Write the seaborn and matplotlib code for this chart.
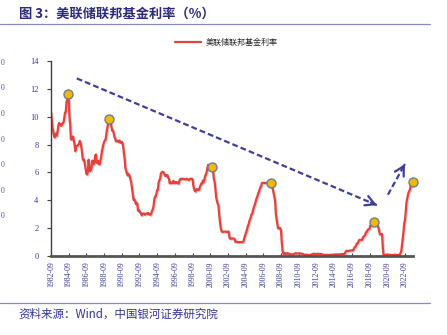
import numpy as np
import pandas as pd
import matplotlib
matplotlib.use("Agg")
import matplotlib.pyplot as plt
import matplotlib.patheffects as pe
from matplotlib.lines import Line2D
import seaborn as sns

# Monthly effective federal funds rate (%), starting 1982-09
start_month = "1982-09"
rates_1980s = [
    10.31, 9.71, 9.20, 8.95,
    8.68, 8.51, 8.77, 8.80, 8.63, 8.98, 9.37, 9.56, 9.45, 9.48, 9.34, 9.47,
    9.56, 9.59, 9.91, 10.29, 10.32, 11.06, 11.23, 11.64, 11.30, 9.99, 9.43, 8.38,
    8.35, 8.50, 8.58, 8.27, 7.97, 7.53, 7.88, 7.90, 7.92, 7.99, 8.05, 8.27,
    8.14, 7.86, 7.48, 6.99, 6.85, 6.92, 6.56, 6.17, 5.89, 5.85, 6.04, 6.91,
    6.43, 6.10, 6.13, 6.37, 6.85, 6.73, 6.58, 6.73, 7.22, 7.29, 6.69, 6.77,
    6.83, 6.58, 6.58, 6.87, 7.09, 7.51, 7.75, 8.01, 8.19, 8.30, 8.35, 8.76,
    9.12, 9.36, 9.85, 9.84, 9.81, 9.53, 9.24, 8.99, 9.02, 8.84, 8.55, 8.45,
]
rates_1990s = [
    8.23, 8.24, 8.28, 8.26, 8.18, 8.29, 8.15, 8.13, 8.20, 8.11, 7.81, 7.31,
    6.91, 6.25, 6.12, 5.91, 5.78, 5.90, 5.82, 5.66, 5.45, 5.21, 4.81, 4.43,
    4.03, 4.06, 3.98, 3.73, 3.82, 3.76, 3.25, 3.30, 3.22, 3.10, 3.09, 2.92,
    3.02, 3.03, 3.07, 2.96, 3.00, 3.04, 3.06, 3.03, 3.09, 2.99, 3.02, 2.96,
    3.05, 3.25, 3.34, 3.56, 4.01, 4.25, 4.26, 4.47, 4.73, 4.76, 5.29, 5.45,
    5.53, 5.92, 5.98, 6.05, 6.01, 6.00, 5.85, 5.74, 5.80, 5.76, 5.80, 5.60,
    5.56, 5.22, 5.31, 5.22, 5.24, 5.27, 5.40, 5.22, 5.30, 5.24, 5.31, 5.29,
    5.25, 5.19, 5.39, 5.51, 5.50, 5.56, 5.52, 5.54, 5.54, 5.50, 5.52, 5.50,
    5.56, 5.51, 5.49, 5.45, 5.49, 5.56, 5.54, 5.55, 5.51, 5.07, 4.83, 4.68,
    4.63, 4.76, 4.81, 4.74, 4.74, 4.76, 4.99, 5.07, 5.22, 5.20, 5.42, 5.30,
]
rates_2000s = [
    5.45, 5.73, 5.85, 6.02, 6.27, 6.53, 6.54, 6.50, 6.52, 6.51, 6.51, 6.40,
    5.98, 5.49, 5.31, 4.80, 4.21, 3.97, 3.77, 3.65, 3.07, 2.49, 2.09, 1.82,
    1.73, 1.74, 1.73, 1.75, 1.75, 1.75, 1.73, 1.74, 1.75, 1.75, 1.34, 1.24,
    1.24, 1.26, 1.25, 1.26, 1.26, 1.22, 1.01, 1.03, 1.01, 1.01, 1.00, 0.98,
    1.00, 1.01, 1.00, 1.00, 1.00, 1.03, 1.26, 1.43, 1.61, 1.76, 1.93, 2.16,
    2.28, 2.50, 2.63, 2.79, 3.00, 3.04, 3.26, 3.50, 3.62, 3.78, 4.00, 4.16,
    4.29, 4.49, 4.59, 4.79, 4.94, 4.99, 5.24, 5.25, 5.25, 5.25, 5.25, 5.24,
    5.25, 5.26, 5.26, 5.25, 5.25, 5.25, 5.26, 5.02, 4.94, 4.76, 4.49, 4.24,
    3.94, 2.98, 2.61, 2.28, 1.98, 2.00, 2.01, 2.00, 1.81, 0.97, 0.39, 0.16,
    0.15, 0.22, 0.18, 0.15, 0.18, 0.21, 0.16, 0.16, 0.15, 0.12, 0.12, 0.12,
]
rates_2010s = [
    0.11, 0.13, 0.16, 0.20, 0.20, 0.18, 0.18, 0.19, 0.19, 0.19, 0.19, 0.18,
    0.17, 0.16, 0.14, 0.10, 0.09, 0.09, 0.07, 0.10, 0.08, 0.07, 0.08, 0.07,
    0.08, 0.10, 0.13, 0.14, 0.16, 0.16, 0.16, 0.13, 0.14, 0.16, 0.16, 0.16,
    0.14, 0.15, 0.14, 0.15, 0.11, 0.09, 0.09, 0.08, 0.08, 0.09, 0.08, 0.09,
    0.07, 0.07, 0.08, 0.09, 0.09, 0.10, 0.09, 0.09, 0.09, 0.09, 0.09, 0.12,
    0.11, 0.11, 0.11, 0.12, 0.12, 0.13, 0.13, 0.14, 0.14, 0.12, 0.12, 0.24,
    0.34, 0.38, 0.36, 0.37, 0.37, 0.38, 0.39, 0.40, 0.40, 0.40, 0.41, 0.54,
    0.65, 0.66, 0.79, 0.90, 0.91, 1.04, 1.15, 1.16, 1.15, 1.15, 1.16, 1.30,
    1.41, 1.42, 1.51, 1.69, 1.70, 1.82, 1.91, 1.91, 1.95, 2.19, 2.20, 2.27,
    2.40, 2.40, 2.41, 2.42, 2.39, 2.38, 2.40, 2.13, 2.04, 1.83, 1.55, 1.55,
]
rates_2020s = [
    1.55, 1.58, 0.65, 0.05, 0.05, 0.08, 0.09, 0.10, 0.09, 0.09, 0.09, 0.09,
    0.09, 0.08, 0.07, 0.07, 0.06, 0.08, 0.10, 0.09, 0.08, 0.08, 0.08, 0.08,
    0.08, 0.08, 0.20, 0.33, 0.77, 1.21, 1.68, 2.33, 2.56, 3.08, 3.78, 4.10,
    4.33, 4.57, 4.65, 4.83, 5.06, 5.08, 5.12, 5.33,
]

tick_labels = [
    "1982-09", "1984-09", "1986-09", "1988-09", "1990-09", "1992-09",
    "1994-09", "1996-09", "1998-09", "2000-09", "2002-09", "2004-09",
    "2006-09", "2008-09", "2010-09", "2012-09", "2014-09", "2016-09",
    "2018-09", "2020-09", "2022-09",
]

# Local peaks highlighted with dots
peak_months = ["1984-08", "1989-03", "2000-12", "2007-07", "2019-03", "2023-08"]

# Trend arrows: (month, rate) start and end points
trend_down = [("1985-08", 12.75), ("2019-07", 3.65)]
trend_up = [("2020-10", 4.40), ("2022-09", 6.60)]

series_name = "美联储联邦基金利率"

# ---------------------------------------------------------------------------
rates = rates_1980s + rates_1990s + rates_2000s + rates_2010s + rates_2020s
months = pd.period_range(start_month, periods=len(rates), freq="M")
df = pd.DataFrame({"month": months.strftime("%Y-%m"),
                   "pos": np.arange(len(rates)),
                   "rate": rates})
pos_of = dict(zip(df["month"], df["pos"]))

sns.set_theme(style="white")
plt.rcParams["font.family"] = ["Liberation Serif", "Noto Sans CJK SC", "DejaVu Sans"]

W, H = 447, 335
fig = plt.figure(figsize=(W / 100, H / 100), dpi=100)
ax = fig.add_axes([51 / W, 1 - 256 / H, 362 / W, 195 / H])

blue_text = "#3a3a9c"
red = "#e8403c"
arrow_col = "#3f3f9a"

sns.lineplot(data=df, x="pos", y="rate", ax=ax, color=red, lw=1.6,
             label=series_name, legend=False)
ax.lines[0].set_path_effects([
    pe.SimpleLineShadow(offset=(0.8, -0.8), shadow_color="#808080", alpha=0.35),
    pe.Normal(),
])

# peak markers
peaks = df[df["month"].isin(peak_months)]
sns.scatterplot(data=peaks, x="pos", y="rate", ax=ax, s=42, color="#f5b800",
                edgecolor="#6d7e8e", linewidth=1.0, zorder=5, legend=False,
                clip_on=False)


def draw_trend(points):
    (m0, v0), (m1, v1) = points
    x0, x1 = pos_of[m0], pos_of[m1]
    ax.plot([x0, x1], [v0, v1], color=arrow_col, lw=1.6,
            dashes=(2.6, 1.4), solid_capstyle="butt", zorder=4)
    ax.annotate("", xy=(x1, v1),
                xytext=(x1 - (x1 - x0) * 0.02, v1 - (v1 - v0) * 0.02),
                arrowprops=dict(arrowstyle="->,head_length=0.55,head_width=0.3",
                                color=arrow_col, lw=1.6,
                                shrinkA=0, shrinkB=0),
                zorder=4)


draw_trend(trend_down)
draw_trend(trend_up)

ax.set_xlim(0, len(rates) - 1)
ax.set_ylim(0, 14)
ax.set_yticks(range(0, 15, 2))
ax.set_xticks([pos_of[t] for t in tick_labels])
ax.set_xticklabels(tick_labels)
ax.set_xlabel("")
ax.set_ylabel("")

for side in ("top", "right"):
    ax.spines[side].set_visible(False)
ax.spines["left"].set_color("#404040")
ax.spines["left"].set_linewidth(1.0)
ax.spines["bottom"].set_color("#555555")
ax.spines["bottom"].set_linewidth(2.0)

ax.tick_params(axis="y", direction="out", length=3, width=0.8, color="#404040",
               labelsize=6, labelcolor=blue_text, pad=6, left=True)
ax.tick_params(axis="x", direction="in", length=2.5, width=0.8, color="#404040",
               labelsize=5.6, labelcolor=blue_text, pad=4, rotation=90, bottom=True)
ax.grid(False)

leg = ax.legend(handles=[Line2D([], [], color=red, lw=1.6)], labels=[series_name],
                loc="center", bbox_to_anchor=(226 / W, 1 - 42 / H),
                bbox_transform=fig.transFigure, frameon=False,
                prop={"family": ["Noto Sans CJK SC"], "size": 5.8},
                handlelength=3.3, handletextpad=0.5)

# header and footer
fig.text(19 / W, 1 - 14 / H, "图 3：美联储联邦基金利率（%）", fontsize=9.5,
         fontweight="bold", color="#2a2a78", va="center", ha="left",
         family=["Noto Sans CJK SC", "DejaVu Sans"])
fig.add_artist(Line2D([0, 430 / W], [1 - 24 / H] * 2, color="#8a8ac0", lw=0.9))
fig.add_artist(Line2D([0, 430 / W], [1 - 303 / H] * 2, color="#8a8ac0", lw=0.9))
fig.text(18 / W, 1 - 314 / H, "资料来源：Wind，中国银河证券研究院", fontsize=8.3,
         color="#33339a", va="center", ha="left", style="italic",
         family=["Noto Sans CJK SC", "DejaVu Sans"])

# edge of the neighbouring axis labels
for yy in [63, 88.5, 114, 139.5, 165, 190.5, 216]:
    fig.text(0.5 / W, 1 - yy / H, "0", fontsize=5.5, color="#5050a8", ha="left",
             va="center")

fig.savefig("out.png", dpi=100)
